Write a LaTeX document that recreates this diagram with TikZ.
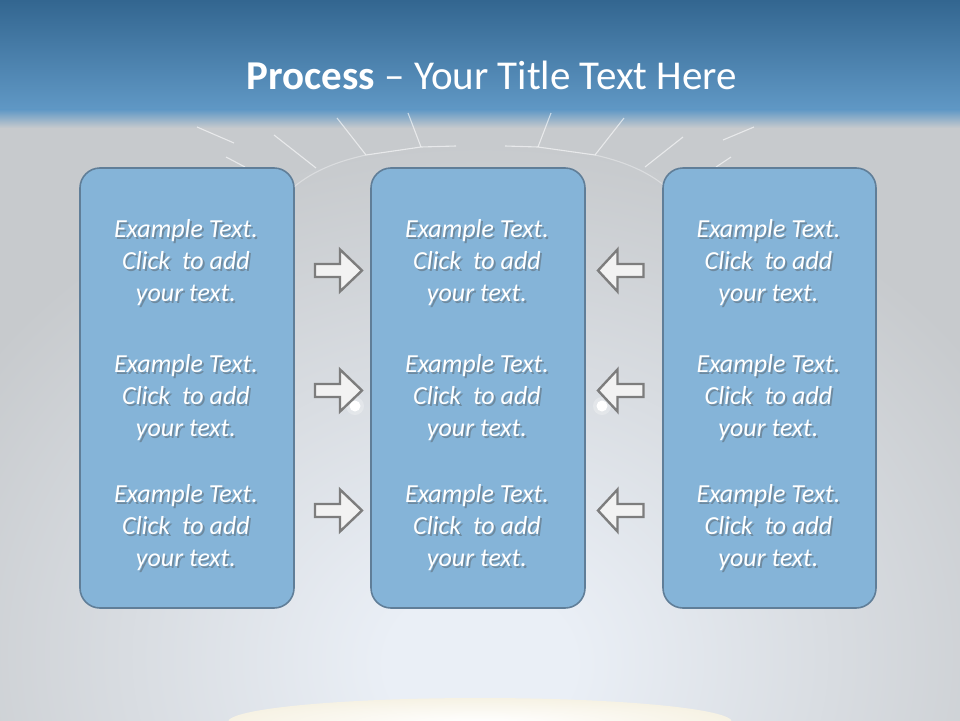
\documentclass[tikz,border=0pt]{standalone}
\usepackage{fontspec}
\setmainfont{Carlito}
\usetikzlibrary{shadings}
\definecolor{topblue}{RGB}{51,102,144}
\definecolor{midblue}{RGB}{96,152,197}
\definecolor{bggray}{RGB}{199,202,205}
\definecolor{glow}{RGB}{234,239,246}
\definecolor{boxfill}{RGB}{133,180,216}
\definecolor{boxline}{RGB}{96,126,152}
\definecolor{arrline}{RGB}{125,125,125}
\definecolor{arrfill}{RGB}{242,242,242}
\pgfdeclareradialshading{stageglow}{\pgfpoint{0bp}{-2.7bp}}{color(0bp)=(glow); color(4bp)=(glow); color(26bp)=(bggray); color(80bp)=(bggray)}
\tikzset{
  panel/.style={draw=boxline, line width=1.6pt, fill=boxfill, rounded corners=20pt},
  btxt/.style={align=center, text=white, font=\fontsize{26}{32}\selectfont\itshape},
  stxt/.style={align=center, text=black!70, opacity=0.4, font=\fontsize{26}{32}\selectfont\itshape},
  blockarrow/.style={draw=arrline, line width=2.4pt, fill=arrfill, line join=miter},
  deco/.style={white, line width=1.1pt, opacity=0.6}
}
\begin{document}
\begin{tikzpicture}[x=1pt,y=-1pt]
\useasboundingbox (0,0) rectangle (960,720);
% background
\fill[bggray] (0,0) rectangle (960,720);
\begin{scope}
\clip (0,128) rectangle (960,720);
\shade[shading=stageglow] (-100,128) rectangle (1060,1100);
\end{scope}
\shade[top color=topblue, bottom color=midblue] (0,0) rectangle (960,110);
\shade[top color=midblue, bottom color=bggray] (0,109.5) rectangle (960,128);
% decorative arcs
\begin{scope}[deco]
\draw (337,118) -- (366,155) -- (421,147) -- (456,146);
\draw (408,113) -- (421,147);
\draw (274,135) -- (316,168);
\draw (226,157) -- (245,167);
\draw (197,127) -- (234,143);
\draw (505,146) -- (538,147) -- (595,155) -- (624,118);
\draw (551,113) -- (538,147);
\draw (683,137) -- (645,167);
\draw (754,127) -- (723,140);
\draw (731,157) -- (716,167);
\draw[opacity=0.35] (366,155) .. controls (330,163) and (305,175) .. (285,195);
\draw[opacity=0.35] (595,155) .. controls (630,163) and (655,175) .. (675,195);
\end{scope}
\fill[white, opacity=0.25] (355,406) circle (9);
\fill[white, opacity=0.25] (602,406) circle (9);
\fill[white] (355,406) circle (5.5);
\fill[white] (602,406) circle (5.5);
% bottom stage
\shade[inner color=white, outer color={rgb,255:red,246;green,242;blue,228}] (480,722) ellipse (252 and 24);
% title
\node (title) at (492,75) {\fontsize{41}{46}\selectfont\color{white}\textbf{Process} – Your Title Text Here};
% panels
\node[panel, minimum width=214pt, minimum height=440pt] (p1) at (187,388) {};
\node[panel, minimum width=214pt, minimum height=440pt] (p2) at (478,388) {};
\node[panel, minimum width=213pt, minimum height=440pt] (p3) at (769.5,388) {};
% texts
\foreach \x/\n in {186/a,477/b,768.5/c}{
  \foreach \y/\m in {263/1,398/2,528/3}{
    \node[stxt] (s\n\m) at (\x+1.8,\y+2) {Example Text.\\Click\ \ to add\\your text.};
    \node[btxt] (t\n\m) at (\x,\y) {Example Text.\\Click\ \ to add\\your text.};
  }
}
% arrows
\foreach \y/\m in {270.5/1,390.5/2,510.5/3}{
  \coordinate (r\m) at (338,\y);
  \coordinate (l\m) at (620.5,\y);
  \draw[blockarrow, shift={(r\m)}] (-23,-6.5) -- (2,-6.5) -- (2,-21) -- (24,0) -- (2,21) -- (2,6.5) -- (-23,6.5) -- cycle;
  \draw[blockarrow, shift={(l\m)}] (23,-6.5) -- (-3,-6.5) -- (-3,-21) -- (-22.5,0) -- (-3,21) -- (-3,6.5) -- (23,6.5) -- cycle;
}
\end{tikzpicture}
\end{document}
